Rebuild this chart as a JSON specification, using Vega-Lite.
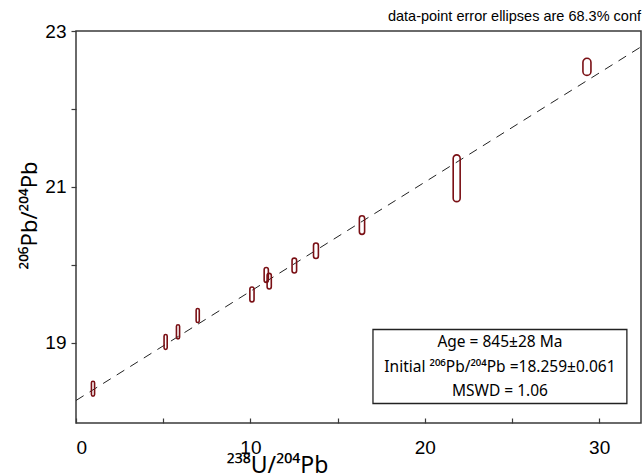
{
  "$schema": "https://vega.github.io/schema/vega-lite/v6.json",
  "width": 565,
  "height": 392,
  "autosize": "none",
  "padding": {"left": 76, "top": 31, "right": 1, "bottom": 50},
  "background": "white",
  "config": {
    "view": {"stroke": "#3a3a3a", "strokeWidth": 1.5},
    "font": "Liberation Sans",
    "axis": {"grid": false, "domain": false, "tickColor": "#3a3a3a", "tickWidth": 1.2, "labelColor": "#000", "titleColor": "#000", "labelFont": "Liberation Sans", "titleFont": "Noto Sans", "titleFontWeight": "normal", "labelFontSize": 19}
  },
  "title": {"text": "data-point error ellipses are 68.3% conf", "anchor": "end", "fontSize": 14.5, "fontWeight": "normal", "font": "Liberation Sans", "color": "#000", "offset": -2},
  "layer": [
    {
      "data": {"values": [{"line_x": 0, "line_y": 18.259}, {"line_x": 32.4, "line_y": 22.797}]},
      "mark": {"type": "line", "color": "#222", "strokeWidth": 1, "strokeDash": [9, 7], "clip": true},
      "encoding": {
        "x": {"field": "line_x", "type": "quantitative", "scale": {"domain": [0, 32.4], "nice": false, "zero": false},
          "axis": {"values": [0, 5, 10, 15, 20, 25, 30], "format": "d", "labelExpr": "datum.value % 10 === 0 ? datum.label : ''", "tickSize": -5, "labelPadding": 20, "title": "²³⁸U/²⁰⁴Pb", "titleFontSize": 23, "titlePadding": -3, "titleX": 201, "titleAlign": "center"}},
        "y": {"field": "line_y", "type": "quantitative", "scale": {"domain": [17.97, 23], "nice": false, "zero": false},
          "axis": {"values": [19, 20, 21, 22, 23], "format": "d", "labelExpr": "datum.value % 2 === 1 ? datum.label : ''", "tickSize": 5, "labelPadding": 5, "title": "²⁰⁶Pb/²⁰⁴Pb", "titleFontSize": 22, "titlePadding": 3, "titleY": 184, "titleAlign": "center"}}
      }
    },
    {
      "data": {"values": [
        {"x_lo": 0.885, "x_hi": 1.065, "y_lo": 18.314, "y_hi": 18.506},
        {"x_lo": 5.05, "x_hi": 5.23, "y_lo": 18.914, "y_hi": 19.106},
        {"x_lo": 5.76, "x_hi": 5.94, "y_lo": 19.05, "y_hi": 19.23},
        {"x_lo": 6.89, "x_hi": 7.07, "y_lo": 19.26, "y_hi": 19.44},
        {"x_lo": 9.97, "x_hi": 10.21, "y_lo": 19.524, "y_hi": 19.716},
        {"x_lo": 10.79, "x_hi": 11.03, "y_lo": 19.774, "y_hi": 19.966},
        {"x_lo": 10.96, "x_hi": 11.20, "y_lo": 19.69, "y_hi": 19.89},
        {"x_lo": 12.39, "x_hi": 12.65, "y_lo": 19.894, "y_hi": 20.086},
        {"x_lo": 13.62, "x_hi": 13.90, "y_lo": 20.08, "y_hi": 20.28},
        {"x_lo": 16.25, "x_hi": 16.55, "y_lo": 20.39, "y_hi": 20.63},
        {"x_lo": 21.63, "x_hi": 22.03, "y_lo": 20.81, "y_hi": 21.41},
        {"x_lo": 29.07, "x_hi": 29.53, "y_lo": 22.43, "y_hi": 22.65}
      ]},
      "mark": {"type": "rect", "fill": "white", "fillOpacity": 0, "stroke": "#7a1015", "strokeWidth": 1.6, "cornerRadius": 30},
      "encoding": {
        "x": {"field": "x_lo", "type": "quantitative"},
        "x2": {"field": "x_hi"},
        "y": {"field": "y_lo", "type": "quantitative"},
        "y2": {"field": "y_hi"}
      }
    },
    {
      "data": {"values": [{"bx1": 17.03, "bx2": 31.59, "by1": 18.22, "by2": 19.17}]},
      "mark": {"type": "rect", "fill": "white", "stroke": "#222", "strokeWidth": 1.3},
      "encoding": {
        "x": {"field": "bx1", "type": "quantitative"},
        "x2": {"field": "bx2"},
        "y": {"field": "by1", "type": "quantitative"},
        "y2": {"field": "by2"}
      }
    },
    {
      "data": {"values": [
        {"tx": 24.31, "ty": 19.01, "label": "Age = 845±28 Ma"},
        {"tx": 24.31, "ty": 18.69, "label": "Initial ²⁰⁶Pb/²⁰⁴Pb =18.259±0.061"},
        {"tx": 24.31, "ty": 18.385, "label": "MSWD = 1.06"}
      ]},
      "mark": {"type": "text", "fontSize": 15.5, "font": "Noto Sans", "color": "#000", "align": "center", "baseline": "middle"},
      "encoding": {
        "x": {"field": "tx", "type": "quantitative"},
        "y": {"field": "ty", "type": "quantitative"},
        "text": {"field": "label"}
      }
    }
  ]
}
